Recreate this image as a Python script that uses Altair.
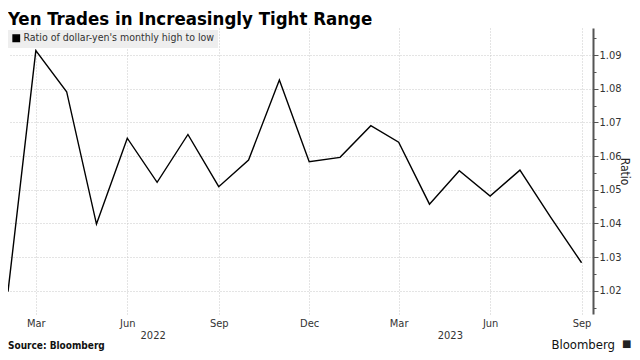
import altair as alt
import pandas as pd

months = ["2022-02-01", "2022-03-01", "2022-04-01", "2022-05-01", "2022-06-01",
          "2022-07-01", "2022-08-01", "2022-09-01", "2022-10-01", "2022-11-01",
          "2022-12-01", "2023-01-01", "2023-02-01", "2023-03-01", "2023-04-01",
          "2023-05-01", "2023-06-01", "2023-07-01", "2023-08-01", "2023-09-01"]
ratio = [1.0197, 1.0913, 1.0791, 1.0398, 1.0653, 1.0522, 1.0664, 1.0509, 1.0588,
         1.0826, 1.0583, 1.0596, 1.0690, 1.0641, 1.0457, 1.0556, 1.0481, 1.0558,
         1.0418, 1.0283]
series_name = "Ratio of dollar-yen's monthly high to low"

year_labels = ["2022", "2023"]
year_label_dates = ["2022-06-27", "2023-04-22"]

y_ticks = [1.015, 1.02, 1.025, 1.03, 1.035, 1.04, 1.045, 1.05, 1.055, 1.06, 1.065,
           1.07, 1.075, 1.08, 1.085, 1.09, 1.095]
x_tick_dates = [(2022, 3), (2022, 6), (2022, 9), (2022, 12), (2023, 3), (2023, 6), (2023, 9)]

SMALL_FONT = "DejaVu Sans Condensed, Liberation Sans, sans-serif"
TITLE_FONT = "DejaVu Sans Condensed, Liberation Sans, sans-serif"

df = pd.DataFrame({"month": months, "ratio": ratio, "series": series_name})
years_df = pd.DataFrame({"label": year_labels, "month": year_label_dates})

x_scale = alt.Scale(domain=[alt.DateTime(year=2022, month=2, date=1),
                            alt.DateTime(year=2023, month=9, date=12, hours=12)])
y_scale = alt.Scale(domain=[1.01308, 1.09802], zero=False, nice=False)

major_test = "abs(round(datum.value*100) - datum.value*100) < 0.01"

line = alt.Chart(df).mark_line(color="black", strokeWidth=1.4, clip=True).encode(
    x=alt.X("month:T", scale=x_scale, title=None,
            axis=alt.Axis(values=[alt.DateTime(year=y, month=m, date=1) for y, m in x_tick_dates],
                          format="%b", labelFontSize=11, labelColor="#333333",
                          labelFont=SMALL_FONT, ticks=False, domain=False,
                          grid=True, gridColor="#c8c8c8", gridDash=[1, 2], gridWidth=1,
                          labelPadding=3)),
    y=alt.Y("ratio:Q", scale=y_scale, title="Ratio",
            axis=alt.Axis(orient="right", values=y_ticks,
                          labelExpr="abs(round(datum.value*100) - datum.value*100) < 0.01 ? format(datum.value, '.2f') : ''",
                          labelFontSize=11, labelColor="#333333", labelFont=SMALL_FONT,
                          tickSize={"condition": {"test": major_test, "value": 5}, "value": 3},
                          tickColor="#555555", domainColor="#555555", domainWidth=2,
                          grid=True, gridColor="#c8c8c8", gridDash=[1, 2],
                          gridOpacity={"condition": {"test": major_test, "value": 1}, "value": 0},
                          labelPadding=1, titleFontSize=12, titleFont=SMALL_FONT,
                          titleFontWeight="normal", titleColor="#222222",
                          titleX=31, titleY=143, titleAngle=90, titleAlign="center",
                          titleBaseline="middle")),
    color=alt.Color("series:N", scale=alt.Scale(range=["black"]),
                    legend=alt.Legend(orient="none", legendX=0, legendY=2, title=None,
                                      fillColor="#eeeeee", padding=3,
                                      symbolType="square", symbolSize=40,
                                      symbolFillColor="black", symbolStrokeColor="black",
                                      labelFontSize=10.5, labelColor="#333333",
                                      labelFont=SMALL_FONT, labelLimit=400,
                                      labelOffset=2)),
)

years = alt.Chart(years_df).mark_text(fontSize=11, color="#333333", font=SMALL_FONT,
                                      baseline="middle", align="center").encode(
    x=alt.X("month:T", scale=x_scale),
    y=alt.value(308),
    text="label:N",
)

title = alt.Chart(pd.DataFrame({"t": ["Yen Trades in Increasingly Tight Range"]})).mark_text(
    fontSize=18.5, fontWeight="bold", font=TITLE_FONT, color="#000000",
    align="left", baseline="alphabetic").encode(x=alt.value(0), y=alt.value(-3), text="t:N")

source = alt.Chart(pd.DataFrame({"t": ["Source: Bloomberg"]})).mark_text(
    fontSize=10, fontWeight="bold", font=SMALL_FONT, color="#111111",
    align="left", baseline="middle").encode(x=alt.value(0), y=alt.value(318), text="t:N")

brand = alt.Chart(pd.DataFrame({"t": ["Bloomberg"]})).mark_text(
    fontSize=13, font=SMALL_FONT, color="#111111",
    align="right", baseline="middle").encode(x=alt.value(607), y=alt.value(317), text="t:N")

brand_icon = alt.Chart(pd.DataFrame({"t": ["\u25a0"]})).mark_text(
    fontSize=10, font="DejaVu Sans", color="#222222",
    align="left", baseline="middle").encode(x=alt.value(614), y=alt.value(316), text="t:N")

chart = alt.layer(line, years, title, source, brand, brand_icon).properties(
    width=585, height=286,
    autosize=alt.AutoSizeParams(type="none"),
    padding={"left": 0, "top": 20, "right": 39, "bottom": 38},
).configure_view(stroke=None)

chart.save("out.html", embed_options={"renderer": "svg", "actions": False})
